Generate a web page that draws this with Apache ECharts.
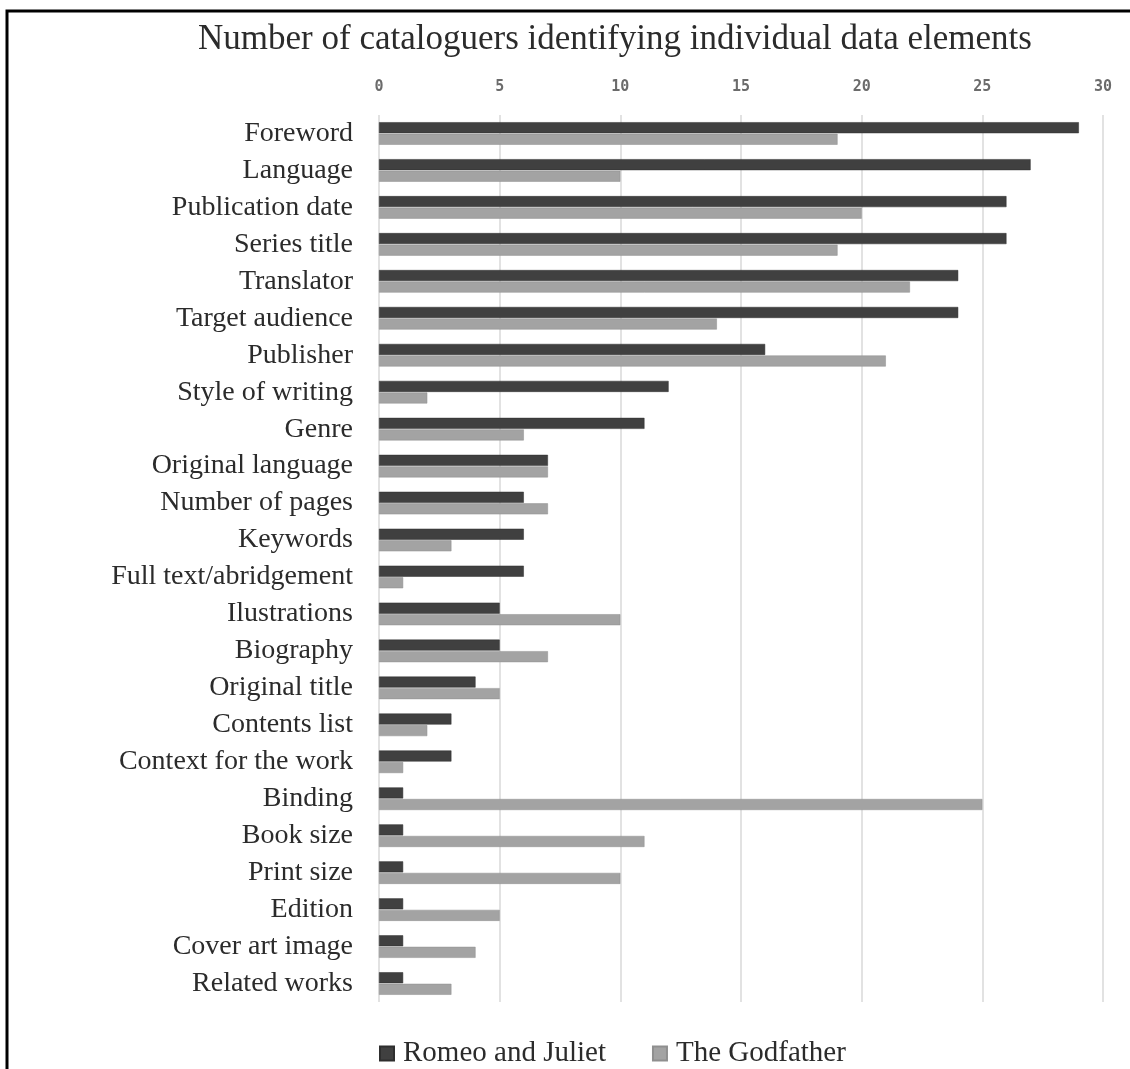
<!DOCTYPE html>
<html>
<head>
<meta charset="utf-8">
<script src="https://cdn.jsdelivr.net/npm/echarts@6/dist/echarts.min.js"></script>
<style>
  html, body { margin: 0; padding: 0; background: #fff; }
  #chart { width: 1130px; height: 1069px; }
</style>
</head>
<body>
<div id="chart"></div>
<script>
const categories = [
  'Foreword', 'Language', 'Publication date', 'Series title', 'Translator',
  'Target audience', 'Publisher', 'Style of writing', 'Genre', 'Original language',
  'Number of pages', 'Keywords', 'Full text/abridgement', 'Ilustrations', 'Biography',
  'Original title', 'Contents list', 'Context for the work', 'Binding', 'Book size',
  'Print size', 'Edition', 'Cover art image', 'Related works'
];
const romeoAndJuliet = [29, 27, 26, 26, 24, 24, 16, 12, 11, 7, 6, 6, 6, 5, 5, 4, 3, 3, 1, 1, 1, 1, 1, 1];
const theGodfather   = [19, 10, 20, 19, 22, 14, 21, 2, 6, 7, 7, 3, 1, 10, 7, 5, 2, 1, 25, 11, 10, 5, 4, 3];
const xTicks = { min: 0, max: 30, interval: 5 };

const serif = '"Liberation Serif", "Times New Roman", serif';
const chart = echarts.init(document.getElementById('chart'), null, { renderer: 'canvas' });

chart.setOption({
  backgroundColor: '#ffffff',
  animation: false,
  legend: {
    top: 1034,
    left: 374,
    itemWidth: 14,
    itemHeight: 14,
    itemGap: 46,
    icon: 'rect',
    textStyle: { fontFamily: serif, fontSize: 29, color: '#2b2b2b', padding: [0, 0, 0, 4] },
    data: ['Romeo and Juliet', 'The Godfather']
  },
  grid: { left: 379, right: 27, top: 115, bottom: 67, containLabel: false },
  xAxis: {
    type: 'value',
    position: 'top',
    min: xTicks.min,
    max: xTicks.max,
    interval: xTicks.interval,
    axisLine: { show: false },
    axisTick: { show: false },
    axisLabel: {
      margin: 20,
      fontFamily: '"DejaVu Sans Mono", monospace',
      fontSize: 15,
      fontWeight: 'bold',
      color: '#6b6b6b'
    },
    splitLine: { show: true, lineStyle: { color: '#d9d9d9', width: 1.5 } }
  },
  yAxis: {
    type: 'category',
    inverse: true,
    data: categories,
    axisLine: { show: false },
    axisTick: { show: false },
    axisLabel: {
      margin: 26,
      fontFamily: serif,
      fontSize: 28,
      color: '#2b2b2b'
    }
  },
  series: [
    {
      name: 'Romeo and Juliet',
      type: 'bar',
      data: romeoAndJuliet,
      barWidth: 11,
      barGap: '5%',
      itemStyle: { color: '#404040', borderColor: '#2e2e2e', borderWidth: 0.5 }
    },
    {
      name: 'The Godfather',
      type: 'bar',
      data: theGodfather,
      barWidth: 11,
      itemStyle: { color: '#a3a3a3', borderColor: '#8f8f8f', borderWidth: 0.5 }
    }
  ],
  graphic: [
    {
      type: 'polyline',
      shape: { points: [[7, 1069], [7, 11], [1130, 11]] },
      style: { stroke: '#000000', lineWidth: 3, fill: null }
    },
    {
      type: 'text',
      x: 615,
      y: 40,
      style: {
        text: 'Number of cataloguers identifying individual data elements',
        font: '35px ' + serif,
        fill: '#2b2b2b',
        textAlign: 'center',
        textVerticalAlign: 'middle'
      }
    }
  ]
});
</script>
</body>
</html>
